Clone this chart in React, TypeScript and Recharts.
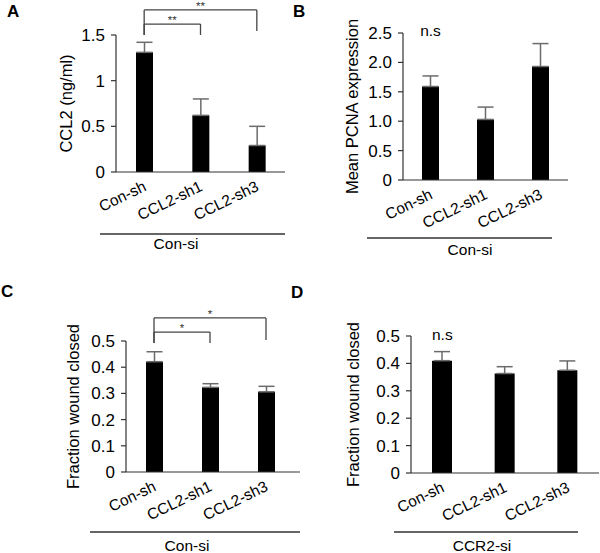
import React from 'react';
import { BarChart, Bar, XAxis, YAxis, ErrorBar, ReferenceLine, ReferenceDot } from 'recharts';

const FONT = '"Liberation Sans", Arial, sans-serif';

// groups on the x axis (same in all four panels)
const categories = ['Con-sh', 'CCL2-sh1', 'CCL2-sh3'];

// A: CCL2 secretion
const ccl2Mean = [1.31, 0.62, 0.29];
const ccl2Err = [0.11, 0.18, 0.21];
const ccl2Ticks = [0, 0.5, 1, 1.5];

// B: PCNA expression
const pcnaMean = [1.59, 1.03, 1.93];
const pcnaErr = [0.18, 0.21, 0.39];
const pcnaTicks = [0, 0.5, 1, 1.5, 2, 2.5];

// C: wound closure, Con-si
const woundConMean = [0.421, 0.323, 0.306];
const woundConErr = [0.038, 0.014, 0.021];

// D: wound closure, CCR2-si
const woundCcr2Mean = [0.41, 0.363, 0.375];
const woundCcr2Err = [0.033, 0.025, 0.034];

const woundTicks = [0, 0.1, 0.2, 0.3, 0.4, 0.5];

// significance brackets (in data units)
const bracketsA = [
  { from: 'Con-sh', to: 'CCL2-sh3', top: 1.774, leftEnd: 1.5, rightEnd: 1.544, mark: '**' },
  { from: 'Con-sh', to: 'CCL2-sh1', top: 1.62, leftEnd: 1.5, rightEnd: 1.5, mark: '**' },
];
const bracketsC = [
  { from: 'Con-sh', to: 'CCL2-sh3', top: 0.588, leftEnd: 0.492, rightEnd: 0.504, mark: '*' },
  { from: 'Con-sh', to: 'CCL2-sh1', top: 0.534, leftEnd: 0.492, rightEnd: 0.492, mark: '*' },
];

const toRows = (mean: number[], err: number[]) =>
  categories.map((name, i) => ({ name, value: mean[i], err: [0, err[i]] }));

const CatTick = (props: any) => {
  const { x, y, payload } = props;
  return (
    <g transform={`translate(${x + 3},${y + 18})`}>
      <text textAnchor="end" transform="rotate(-26)" fontSize={15.5} fontFamily={FONT} fill="#000">
        {payload.value}
      </text>
    </g>
  );
};

const renderBracket = (b: any, key: string) => [
  <ReferenceLine
    key={key + 'h'}
    segment={[{ x: b.from, y: b.top }, { x: b.to, y: b.top }]}
    stroke="#444"
    strokeWidth={1.3}
    ifOverflow="visible"
    label={{ value: b.mark, position: 'top', offset: 0, fontSize: 11.5, fill: '#333', fontFamily: FONT }}
  />,
  <ReferenceLine
    key={key + 'l'}
    segment={[{ x: b.from, y: b.top }, { x: b.from, y: b.leftEnd }]}
    stroke="#444"
    strokeWidth={1.3}
    ifOverflow="visible"
  />,
  <ReferenceLine
    key={key + 'r'}
    segment={[{ x: b.to, y: b.top }, { x: b.to, y: b.rightEnd }]}
    stroke="#444"
    strokeWidth={1.3}
    ifOverflow="visible"
  />,
];

interface PanelProps {
  rows: any[];
  domain: [number, number];
  ticks: number[];
  tickFormatter?: (v: number) => string;
  yLabel: string;
  margin: { top: number; right: number; bottom: number; left: number };
  yWidth: number;
  yLabelOffset: number;
  barSize: number;
  padRight?: number;
  children?: React.ReactNode;
}

const Panel = ({ rows, domain, ticks, tickFormatter, yLabel, margin, yWidth, yLabelOffset, barSize, padRight = 0, children }: PanelProps) => (
  <div style={{ position: 'absolute', left: 0, top: 0 }}>
    <BarChart width={600} height={553} data={rows} margin={margin}>
      <XAxis
        dataKey="name"
        type="category"
        interval={0}
        height={40}
        tickLine={false}
        tickSize={0}
        tickMargin={0}
        axisLine={{ stroke: '#333', strokeWidth: 1.2 }}
        tick={<CatTick />}
        padding={{ left: 0, right: padRight }}
      />
      <YAxis
        type="number"
        width={yWidth}
        domain={domain}
        ticks={ticks}
        interval={0}
        tickFormatter={tickFormatter}
        tickSize={5}
        tickMargin={6}
        axisLine={{ stroke: '#333', strokeWidth: 1.2 }}
        tickLine={{ stroke: '#333', strokeWidth: 1.2 }}
        tick={{ fontSize: 17, fill: '#000', fontFamily: FONT }}
        label={{
          value: yLabel,
          angle: -90,
          position: 'insideLeft',
          offset: yLabelOffset,
          style: { textAnchor: 'middle', fontSize: 16.5, fill: '#000', fontFamily: FONT },
        }}
      />
      <Bar dataKey="value" fill="#000" barSize={barSize} isAnimationActive={false}>
        <ErrorBar dataKey="err" width={8} stroke="#6b6b6b" strokeWidth={1.5} direction="y" />
      </Bar>
      {children}
    </BarChart>
  </div>
);

const textStyle = { fontFamily: FONT, fill: '#000' };

export default function App() {
  return (
    <div style={{ position: 'absolute', left: 0, top: 0, width: 600, height: 553, background: '#fff', overflow: 'hidden' }}>
      {/* A */}
      <Panel
        rows={toRows(ccl2Mean, ccl2Err)}
        domain={[0, 1.5]}
        ticks={ccl2Ticks}
        yLabel="CCL2 (ng/ml)"
        margin={{ top: 35, right: 315, bottom: 341, left: 0 }}
        yWidth={116}
        yLabelOffset={66}
        barSize={17}
      >
        {bracketsA.map((b, i) => renderBracket(b, 'a' + i))}
        <line x1={100} x2={285} y1={234} y2={234} stroke="#333" strokeWidth={1.5} />
        <text x={176} y={249} textAnchor="middle" fontSize={15.5} style={textStyle}>Con-si</text>
        <text x={7} y={17} fontSize={17} fontWeight="bold" style={textStyle}>A</text>
      </Panel>

      {/* B */}
      <Panel
        rows={toRows(pcnaMean, pcnaErr)}
        domain={[0, 2.5]}
        ticks={pcnaTicks}
        tickFormatter={(v) => (v === 0 ? '0' : v.toFixed(1))}
        yLabel="Mean PCNA expression"
        margin={{ top: 33, right: 32, bottom: 333, left: 343 }}
        yWidth={60}
        yLabelOffset={9}
        barSize={17}
      >
        <ReferenceDot x="Con-sh" y={2.55} r={0} ifOverflow="visible" label={{ value: 'n.s', position: 'center', fontSize: 15.5, fill: '#000', fontFamily: FONT }} />
        <line x1={367} x2={552} y1={238} y2={238} stroke="#333" strokeWidth={1.5} />
        <text x={470} y={255} textAnchor="middle" fontSize={15.5} style={textStyle}>Con-si</text>
        <text x={293} y={17} fontSize={17} fontWeight="bold" style={textStyle}>B</text>
      </Panel>

      {/* C */}
      <Panel
        rows={toRows(woundConMean, woundConErr)}
        domain={[0, 0.5]}
        ticks={woundTicks}
        yLabel="Fraction wound closed"
        margin={{ top: 341, right: 300, bottom: 41, left: 56 }}
        yWidth={70}
        yLabelOffset={17}
        barSize={17}
        padRight={6}
      >
        {bracketsC.map((b, i) => renderBracket(b, 'c' + i))}
        <line x1={90} x2={300} y1={532} y2={532} stroke="#333" strokeWidth={1.5} />
        <text x={187} y={551} textAnchor="middle" fontSize={15.5} style={textStyle}>Con-si</text>
        <text x={1} y={297} fontSize={17} fontWeight="bold" style={textStyle}>C</text>
      </Panel>

      {/* D */}
      <Panel
        rows={toRows(woundCcr2Mean, woundCcr2Err)}
        domain={[0, 0.5]}
        ticks={woundTicks}
        yLabel="Fraction wound closed"
        margin={{ top: 336, right: 1, bottom: 40, left: 346 }}
        yWidth={65}
        yLabelOffset={7}
        barSize={20}
      >
        <ReferenceDot x="Con-sh" y={0.505} r={0} ifOverflow="visible" label={{ value: 'n.s', position: 'center', fontSize: 15.5, fill: '#000', fontFamily: FONT }} />
        <line x1={394} x2={578} y1={532} y2={532} stroke="#333" strokeWidth={1.5} />
        <text x={482} y={551} textAnchor="middle" fontSize={15.5} style={textStyle}>CCR2-si</text>
        <text x={291} y={298} fontSize={17} fontWeight="bold" style={textStyle}>D</text>
      </Panel>
    </div>
  );
}
